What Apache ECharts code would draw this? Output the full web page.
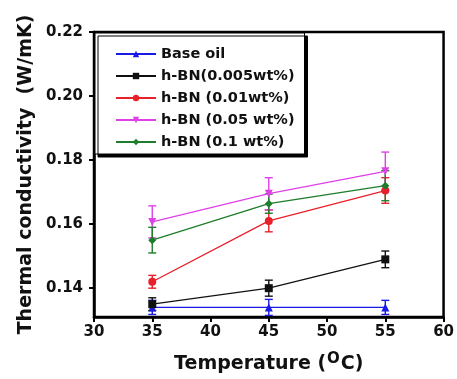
<!DOCTYPE html>
<html>
<head>
<meta charset="utf-8">
<script src="https://cdn.jsdelivr.net/npm/echarts@6/dist/echarts.min.js"></script>
<style>
html, body { margin: 0; padding: 0; background: #fff; }
#chart { width: 457px; height: 379px; }
</style>
</head>
<body>
<div id="chart"></div>
<script>
// temperatures (°C)
var temps = [35, 45, 55];
// thermal conductivity (W/mK) and error
var baseOil = [0.134, 0.134, 0.134];
var baseOilErr = [0.0022, 0.0025, 0.0022];
var hbn005 = [0.135, 0.140, 0.149];
var hbn005Err = [0.002, 0.0025, 0.0026];
var hbn01 = [0.142, 0.161, 0.1705];
var hbn01Err = [0.002, 0.0034, 0.004];
var hbn05 = [0.1607, 0.1695, 0.1765];
var hbn05Err = [0.005, 0.005, 0.006];
var hbn1 = [0.155, 0.1664, 0.172];
var hbn1Err = [0.004, 0.003, 0.0047];
var yTicks = [0.14, 0.16, 0.18, 0.20, 0.22];

var seriesDefs = [
  { name: "Base oil", vals: baseOil, err: baseOilErr, color: "#1a1ae6", symbol: "triangle", rot: 0 },
  { name: "h-BN(0.005wt%)", vals: hbn005, err: hbn005Err, color: "#111111", symbol: "rect", rot: 0 },
  { name: "h-BN (0.01wt%)", vals: hbn01, err: hbn01Err, color: "#e8202a", symbol: "circle", rot: 0 },
  { name: "h-BN (0.05 wt%)", vals: hbn05, err: hbn05Err, color: "#e040e8", symbol: "triangle", rot: 180 },
  { name: "h-BN (0.1 wt%)", vals: hbn1, err: hbn1Err, color: "#1e7d2a", symbol: "diamond", rot: 0 }
];

var font = "DejaVu Sans, Arial, sans-serif";
var chart = echarts.init(document.getElementById("chart"));

var series = [];
seriesDefs.forEach(function(d) {
  var pts = [];
  var errs = [];
  for (var i = 0; i < temps.length; i++) {
    pts.push([temps[i], d.vals[i]]);
    errs.push([temps[i], d.vals[i] - d.err[i], d.vals[i] + d.err[i]]);
  }
  // error bars
  series.push({
    type: "custom",
    name: d.name + "_err",
    data: errs,
    z: 2,
    silent: true,
    renderItem: function(params, api) {
      var lo = api.coord([api.value(0), api.value(1)]);
      var hi = api.coord([api.value(0), api.value(2)]);
      var w = 4;
      var st = { stroke: d.color, lineWidth: 1.4 };
      return {
        type: "group",
        children: [
          { type: "line", shape: { x1: lo[0], y1: lo[1], x2: hi[0], y2: hi[1] }, style: st },
          { type: "line", shape: { x1: lo[0] - w, y1: lo[1], x2: lo[0] + w, y2: lo[1] }, style: st },
          { type: "line", shape: { x1: hi[0] - w, y1: hi[1], x2: hi[0] + w, y2: hi[1] }, style: st }
        ]
      };
    }
  });
  series.push({
    type: "line",
    name: d.name,
    data: pts,
    z: 3,
    symbol: d.symbol,
    symbolRotate: d.rot,
    symbolSize: 8,
    lineStyle: { color: d.color, width: 1.3 },
    itemStyle: { color: d.color },
    animation: false
  });
});

var option = {
  animation: false,
  grid: {
    left: 94, top: 32, right: 12, bottom: 61,
    show: true, borderColor: "#000", borderWidth: 2.5, backgroundColor: "transparent"
  },
  legend: {
    data: seriesDefs.map(function(d) { return d.name; }),
    orient: "vertical",
    left: 95, top: 33,
    itemWidth: 40, itemHeight: 8,
    itemGap: 4,
    padding: [12, 10, 3, 20],
    backgroundColor: "#fff",
    borderColor: "#000",
    borderWidth: 1,
    shadowColor: "#000",
    shadowBlur: 0,
    shadowOffsetX: 3,
    shadowOffsetY: 3,
    textStyle: { fontFamily: font, fontWeight: "bold", fontSize: 14.5, lineHeight: 18, color: "#111" }
  },
  xAxis: {
    type: "value",
    min: 30, max: 60, interval: 5,
    name: "Temperature ({sup|O}C)",
    nameLocation: "middle",
    nameGap: 35,
    nameTextStyle: {
      fontFamily: font, fontWeight: "bold", fontSize: 19, color: "#111",
      rich: { sup: { fontFamily: font, fontWeight: "bold", fontSize: 15, verticalAlign: "top", padding: [0, 1, 10, 1] } }
    },
    axisLine: { lineStyle: { color: "#000", width: 2.5 } },
    axisTick: { inside: false, length: 5, lineStyle: { color: "#000", width: 2 } },
    axisLabel: { fontFamily: font, fontWeight: "bold", fontSize: 15, color: "#111", margin: 8 },
    splitLine: { show: false }
  },
  yAxis: {
    type: "value",
    min: 0.131, max: 0.22,
    name: "Thermal conductivity  (W/mK)",
    nameLocation: "middle",
    nameGap: 58,
    nameTextStyle: { fontFamily: font, fontWeight: "bold", fontSize: 19, color: "#111" },
    axisLine: { lineStyle: { color: "#000", width: 2.5 } },
    axisTick: { inside: false, length: 5, customValues: yTicks, lineStyle: { color: "#000", width: 2 } },
    axisLabel: {
      customValues: yTicks,
      fontFamily: font, fontWeight: "bold", fontSize: 15, color: "#111", margin: 11,
      formatter: function(v) { return v.toFixed(2); }
    },
    splitLine: { show: false }
  },
  series: series
};
chart.setOption(option);
</script>
</body>
</html>
